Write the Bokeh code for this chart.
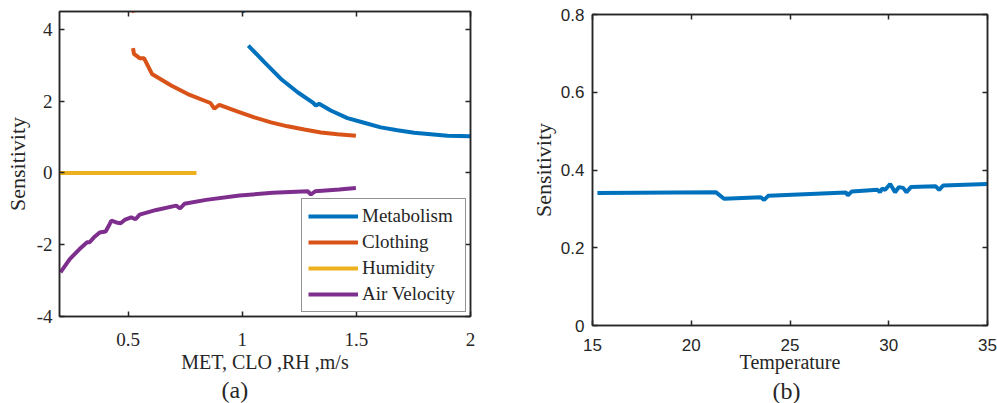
import numpy as np
from bokeh.plotting import figure
from bokeh.models import Range1d, LinearAxis, FixedTicker, Legend, LegendItem, Title
from bokeh.layouts import row
from bokeh.embed import file_html
from bokeh.resources import INLINE

nan = np.nan

# ---- Panel (a) data ----
met_x = [1.000, 1.010, nan, 1.027, 1.097, 1.170, 1.243, 1.308, 1.323, 1.337, 1.388, 1.461,
         1.534, 1.607, 1.680, 1.753, 1.826, 1.899, 2.000]
met_y = [4.60, 4.47, nan, 3.55, 3.09, 2.62, 2.25, 1.97, 1.88, 1.93, 1.74, 1.53,
         1.40, 1.27, 1.19, 1.12, 1.08, 1.04, 1.02]

clo_x = [0.520, 0.526, nan, 0.522, 0.526, 0.551, 0.570, 0.605, 0.689, 0.762, 0.861, 0.878,
         0.900, 0.981, 1.053, 1.126, 1.199, 1.272, 1.345, 1.418, 1.498]
clo_y = [4.60, 4.47, nan, 3.48, 3.32, 3.20, 3.20, 2.76, 2.44, 2.20, 1.95, 1.79,
         1.90, 1.71, 1.55, 1.41, 1.30, 1.21, 1.13, 1.08, 1.04]

rh_x = [0.20, 0.80]
rh_y = [0.0, 0.0]

vel_x = [0.204, 0.245, 0.288, 0.321, 0.332, 0.350, 0.376, 0.402, 0.420, 0.427, 0.449, 0.468,
         0.485, 0.514, 0.533, 0.551, 0.624, 0.711, 0.728, 0.747, 0.842, 0.988, 1.134,
         1.287, 1.301, 1.320, 1.425, 1.498]
vel_y = [-2.77, -2.40, -2.12, -1.93, -1.93, -1.80, -1.66, -1.63, -1.42, -1.33, -1.38, -1.40,
         -1.31, -1.24, -1.29, -1.16, -1.03, -0.91, -0.99, -0.86, -0.75, -0.63, -0.55,
         -0.51, -0.60, -0.51, -0.46, -0.42]

a_xticks = [0.5, 1.0, 1.5, 2.0]
a_xlabels = ["0.5", "1", "1.5", "2"]
a_yticks = [-4, -2, 0, 2, 4]
a_ylabels = ["-4", "-2", "0", "2", "4"]

# ---- Panel (b) data ----
temp_x = [15.25, 21.24, 21.66, 23.52, 23.69, 23.91, 27.83, 27.93, 28.13, 29.43, 29.55, 29.67,
          29.82, 30.07, 30.32, 30.52, 30.73, 30.90, 31.12, 32.38, 32.55, 32.75, 35.0]
temp_y = [0.341, 0.343, 0.326, 0.330, 0.323, 0.334, 0.342, 0.335, 0.345, 0.349, 0.343, 0.352,
          0.349, 0.364, 0.343, 0.356, 0.354, 0.343, 0.356, 0.358, 0.349, 0.360, 0.364]

b_xticks = [15, 20, 25, 30, 35]
b_xlabels = ["15", "20", "25", "30", "35"]
b_yticks = [0, 0.2, 0.4, 0.6, 0.8]
b_ylabels = ["0", "0.2", "0.4", "0.6", "0.8"]

AXC = "#262626"
SERIF = "Liberation Serif"
SANS = "Liberation Sans"
COLORS = ["#0072BD", "#D95319", "#EDB120", "#7E2F8E"]


def style_axis(ax, ticks, labels, font, size, show_labels=True):
    ax.ticker = FixedTicker(ticks=ticks)
    ax.major_label_overrides = {t: l for t, l in zip(ticks, labels)}
    ax.major_tick_in = 5
    ax.major_tick_out = 0
    ax.minor_tick_line_color = None
    ax.major_tick_line_color = AXC
    ax.major_tick_line_width = 1.5
    ax.axis_line_color = AXC
    ax.axis_line_width = 1.5
    ax.major_label_text_font = font
    ax.major_label_text_color = AXC
    if show_labels:
        ax.major_label_text_font_size = size
    else:
        ax.major_label_text_font_size = "0px"
        ax.major_label_standoff = 0


def add_box_axes(p, xticks, yticks):
    top = LinearAxis()
    style_axis(top, xticks, [""] * len(xticks), SERIF, "0px", show_labels=False)
    p.add_layout(top, "above")
    right = LinearAxis()
    style_axis(right, yticks, [""] * len(yticks), SERIF, "0px", show_labels=False)
    p.add_layout(right, "right")


def style_label(ax, text, size, standoff):
    ax.axis_label = text
    ax.axis_label_text_font = SERIF
    ax.axis_label_text_font_size = size
    ax.axis_label_text_font_style = "normal"
    ax.axis_label_text_color = AXC
    ax.axis_label_standoff = standoff


# ---------- Panel (a) ----------
pa = figure(width=500, height=403, output_backend="svg", toolbar_location=None,
            x_range=Range1d(0.2, 2.0), y_range=Range1d(-4, 4.5),
            min_border_left=59, min_border_right=30, min_border_top=11, min_border_bottom=87)
pa.frame_align = False
pa.grid.visible = False
pa.outline_line_color = AXC
pa.outline_line_width = 1.5
pa.background_fill_color = "white"
pa.border_fill_color = "white"

style_axis(pa.xaxis[0], a_xticks, a_xlabels, SERIF, "19px")
style_axis(pa.yaxis[0], a_yticks, a_ylabels, SERIF, "19px")
pa.xaxis[0].major_label_standoff = 16
pa.yaxis[0].major_label_standoff = 7
style_label(pa.xaxis[0], "MET, CLO ,RH ,m/s", "20px", 2)
style_label(pa.yaxis[0], "Sensitivity", "22px", 4)
add_box_axes(pa, a_xticks, a_yticks)

r1 = pa.line(met_x, met_y, line_color=COLORS[0], line_width=4)
r2 = pa.line(clo_x, clo_y, line_color=COLORS[1], line_width=4)
r3 = pa.line(rh_x, rh_y, line_color=COLORS[2], line_width=4)
r4 = pa.line(vel_x, vel_y, line_color=COLORS[3], line_width=4)

legend = Legend(items=[LegendItem(label="Metabolism", renderers=[r1]),
                       LegendItem(label="Clothing", renderers=[r2]),
                       LegendItem(label="Humidity", renderers=[r3]),
                       LegendItem(label="Air Velocity", renderers=[r4])],
                location="bottom_right", margin=4, padding=6, spacing=4,
                glyph_width=50, glyph_height=20, label_standoff=4, label_width=97,
                label_text_font=SERIF, label_text_font_size="19px", label_text_color=AXC,
                border_line_color=AXC, border_line_width=1, background_fill_alpha=1.0)
pa.add_layout(legend)

pa.add_layout(Title(text="(a)", align="left", offset=162, text_font=SERIF,
                    text_font_size="24px", text_font_style="normal", text_color=AXC,
                    standoff=-1), "below")

# ---------- Panel (b) ----------
pb = figure(width=497, height=403, output_backend="svg", toolbar_location=None,
            x_range=Range1d(15, 35), y_range=Range1d(0, 0.8),
            min_border_left=92, min_border_right=10, min_border_top=14, min_border_bottom=78)
pb.frame_align = False
pb.grid.visible = False
pb.outline_line_color = AXC
pb.outline_line_width = 1.5
pb.background_fill_color = "white"
pb.border_fill_color = "white"

style_axis(pb.xaxis[0], b_xticks, b_xlabels, SANS, "17px")
style_axis(pb.yaxis[0], b_yticks, b_ylabels, SANS, "17px")
pb.xaxis[0].major_label_standoff = 13
pb.yaxis[0].major_label_standoff = 8
style_label(pb.xaxis[0], "Temperature", "20px", -3)
style_label(pb.yaxis[0], "Sensitivity", "22px", 2)
add_box_axes(pb, b_xticks, b_yticks)

pb.line(temp_x, temp_y, line_color=COLORS[0], line_width=4)

pb.add_layout(Title(text="(b)", align="left", offset=180, text_font=SERIF,
                    text_font_size="24px", text_font_style="normal", text_color=AXC,
                    standoff=0), "below")

layout = row(pa, pb)
open("out.html", "w").write(file_html(layout, INLINE))
